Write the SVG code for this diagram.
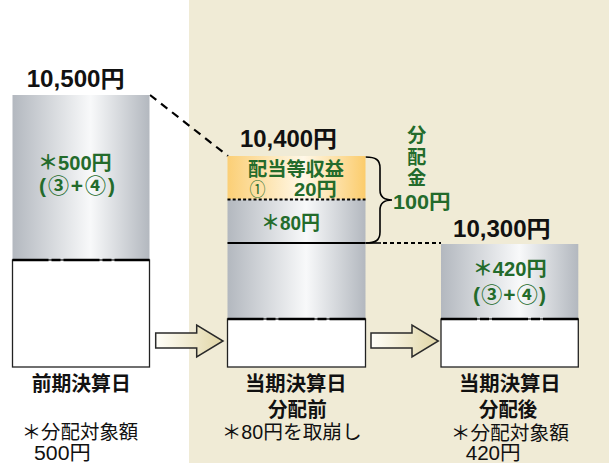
<svg xmlns="http://www.w3.org/2000/svg" width="609" height="463" viewBox="0 0 609 463">
<style>
.t{font-family:"Liberation Sans","Noto Sans CJK JP",sans-serif}
.b{font-weight:bold}
.k{fill:#111}
.g{fill:#236b2b}
.wb{fill:#fff;stroke:#222;stroke-width:1.3}
.brk{stroke:#000;stroke-width:2.6;stroke-dasharray:36 3 9 3 36 3 9 3 60;fill:none}
.arr{fill:url(#arrGrad);stroke:#2a2a2a;stroke-width:1.5;stroke-linejoin:miter}
</style>
<defs>
<linearGradient id="grayGrad" x1="0" y1="0" x2="1" y2="0">
<stop offset="0" stop-color="#b3b8bf"/>
<stop offset="0.57" stop-color="#f8f9fa"/>
<stop offset="1" stop-color="#b3b8bf"/>
</linearGradient>
<linearGradient id="orangeGrad" x1="0" y1="0" x2="1" y2="0">
<stop offset="0" stop-color="#fbcf76"/>
<stop offset="0.55" stop-color="#fff8e8"/>
<stop offset="1" stop-color="#fbcc6c"/>
</linearGradient>
<linearGradient id="arrGrad" x1="0" y1="0" x2="1" y2="0">
<stop offset="0" stop-color="#fffef9"/>
<stop offset="1" stop-color="#e1d6a6"/>
</linearGradient>
</defs>

<rect id="panel" x="189" y="0" width="420" height="463" fill="#f0ebd6"/>

<g id="connectors">
<line x1="150" y1="95" x2="228" y2="156" stroke="#000" stroke-width="2.2" stroke-dasharray="8 6"/>
<path d="M365.5,243 L381,243" stroke="#000" stroke-width="1.6" fill="none"/>
<line x1="383" y1="243" x2="441" y2="243" stroke="#000" stroke-width="2" stroke-dasharray="4 3"/>
<path d="M365.5,157 C376,157 380,160 380,168 L380,190 C380,197 384,200 392,200 C384,200 380,203 380,210 L380,232 C380,240 376,243 365.5,243" stroke="#000" stroke-width="1.6" fill="none"/>
<path class="arr" d="M155.7,333 L196.7,333 L196.7,325 L223,341 L196.7,357 L196.7,348 L155.7,348 Z"/>
<path class="arr" d="M371,333 L412,333 L412,325 L438.3,341 L412,357 L412,348 L371,348 Z"/>
</g>

<g id="node-prev">
<text class="t b k" x="26.7" y="86.7" font-size="23" textLength="98" lengthAdjust="spacingAndGlyphs">10,500円</text>
<rect x="12.5" y="95" width="137" height="165" fill="url(#grayGrad)"/>
<rect class="wb" x="12.5" y="260" width="137" height="107"/>
<line class="brk" x1="12.5" y1="260" x2="149.5" y2="260"/>
<text class="t b g" x="38" y="170" font-size="20" textLength="73.7" lengthAdjust="spacingAndGlyphs">＊500円</text>
<text class="t b g" x="39" y="192.5" font-size="21" textLength="76" lengthAdjust="spacing">(③+④)</text>
<text class="t b k" x="31.7" y="391" font-size="20" textLength="99" lengthAdjust="spacingAndGlyphs">前期決算日</text>
<text class="t k" x="21.7" y="439" font-size="19.5" textLength="116.6" lengthAdjust="spacingAndGlyphs">＊分配対象額</text>
<text class="t k" x="34" y="460" font-size="20" textLength="56.7" lengthAdjust="spacingAndGlyphs">500円</text>
</g>

<g id="node-before">
<text class="t b k" x="240" y="147.3" font-size="23" textLength="97" lengthAdjust="spacingAndGlyphs">10,400円</text>
<rect x="227.5" y="156" width="138" height="43.5" fill="url(#orangeGrad)"/>
<rect x="227.5" y="199.5" width="138" height="119.5" fill="url(#grayGrad)"/>
<line x1="227.5" y1="199.5" x2="365.5" y2="199.5" stroke="#000" stroke-width="1.8" stroke-dasharray="3 2.2"/>
<line x1="227.5" y1="243" x2="365.5" y2="243" stroke="#000" stroke-width="2"/>
<rect class="wb" x="227.5" y="319" width="138" height="48"/>
<line class="brk" x1="227.5" y1="319" x2="365.5" y2="319"/>
<text class="t b g" x="248" y="176.3" font-size="19" textLength="96" lengthAdjust="spacingAndGlyphs">配当等収益</text>
<text class="t g" x="249.5" y="196" font-size="18" textLength="16" lengthAdjust="spacingAndGlyphs">①</text>
<text class="t b g" x="294" y="196" font-size="19" textLength="42.7" lengthAdjust="spacingAndGlyphs">20円</text>
<text class="t b g" x="261" y="230" font-size="20" textLength="59" lengthAdjust="spacingAndGlyphs">＊80円</text>
<text class="t b k" x="245" y="391" font-size="20" textLength="101.7" lengthAdjust="spacingAndGlyphs">当期決算日</text>
<text class="t b k" x="268" y="417" font-size="20" textLength="58.7" lengthAdjust="spacingAndGlyphs">分配前</text>
<text class="t k" x="221.7" y="439" font-size="19.5" textLength="140" lengthAdjust="spacingAndGlyphs">＊80円を取崩し</text>
</g>

<g id="node-dist">
<text class="t b g" x="416.7" y="142" font-size="19" text-anchor="middle">分</text>
<text class="t b g" x="416.7" y="163.7" font-size="19" text-anchor="middle">配</text>
<text class="t b g" x="416.7" y="185" font-size="19" text-anchor="middle">金</text>
<text class="t b g" x="393" y="208.7" font-size="20" textLength="57.7" lengthAdjust="spacingAndGlyphs">100円</text>
</g>

<g id="node-after">
<text class="t b k" x="453" y="236.5" font-size="23" textLength="97.7" lengthAdjust="spacingAndGlyphs">10,300円</text>
<rect x="441" y="244" width="137.3" height="75" fill="url(#grayGrad)"/>
<rect class="wb" x="441" y="319" width="137.3" height="48"/>
<line class="brk" x1="441" y1="319" x2="578.3" y2="319"/>
<text class="t b g" x="472.7" y="275.5" font-size="20" textLength="74" lengthAdjust="spacingAndGlyphs">＊420円</text>
<text class="t b g" x="473" y="302" font-size="21" textLength="73" lengthAdjust="spacing">(③+④)</text>
<text class="t b k" x="459" y="391" font-size="20" textLength="101.7" lengthAdjust="spacingAndGlyphs">当期決算日</text>
<text class="t b k" x="479" y="417" font-size="20" textLength="58.3" lengthAdjust="spacingAndGlyphs">分配後</text>
<text class="t k" x="450.7" y="440" font-size="19.5" textLength="118.3" lengthAdjust="spacingAndGlyphs">＊分配対象額</text>
<text class="t k" x="465.7" y="460" font-size="20" textLength="55" lengthAdjust="spacingAndGlyphs">420円</text>
</g>
</svg>
